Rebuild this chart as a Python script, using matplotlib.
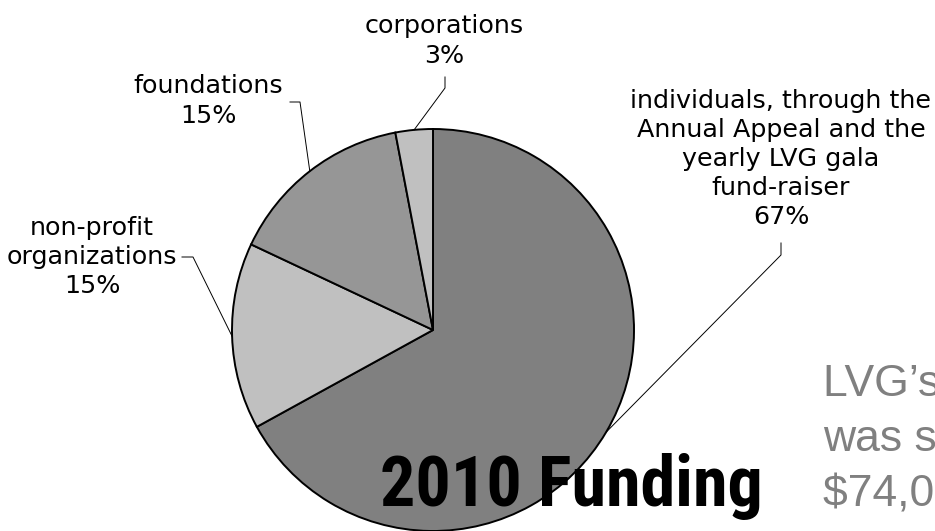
import matplotlib
matplotlib.use("Agg")
import matplotlib.pyplot as plt
from matplotlib import font_manager
import numpy as np

# ---- data ----
categories = ["individuals, through the\nAnnual Appeal and the\nyearly LVG gala\nfund-raiser",
              "non-profit\norganizations",
              "foundations",
              "corporations"]
values = [67, 15, 15, 3]
pct_labels = ["67%", "15%", "15%", "3%"]
colors = ["#808080", "#c0c0c0", "#969696", "#c0c0c0"]
title = "2010 Funding"
side_lines = ["LVG\u2019s budget for", "was spent on", "$74,000 in"]

W, H = 935, 531
fig = plt.figure(figsize=(W / 100, H / 100), dpi=100)
fig.patch.set_facecolor("white")

# pie placement in pixels (from top-left)
cx, cy, r = 433, 330, 201
ax = fig.add_axes([(cx - r) / W, (H - cy - r) / H, 2 * r / W, 2 * r / H])
wedges, _ = ax.pie(values, colors=colors, startangle=90, counterclock=False,
                   radius=1, wedgeprops=dict(edgecolor="black", linewidth=1.4))
ax.set_xlim(-1, 1)
ax.set_ylim(-1, 1)
ax.set_aspect("auto")
ax.axis("off")


def to_data(px, py):
    return ((px - cx) / r, (cy - py) / r)


# label layout: text center (px), leader start, leader kink
layout = [
    dict(text=(781, 159), start=(781, 243), kink=(781, 255)),
    dict(text=(92, 257), start=(182, 257), kink=(193, 257)),
    dict(text=(208, 101), start=(290, 102), kink=(300, 102)),
    dict(text=(444, 41), start=(445, 77), kink=(445, 88)),
]

label_font = dict(family="DejaVu Sans", size=18.3)
for w, cat, pct, lay in zip(wedges, categories, pct_labels, layout):
    mid = np.deg2rad((w.theta1 + w.theta2) / 2)
    ex, ey = np.cos(mid), np.sin(mid)
    tx, ty = to_data(*lay["text"])
    ax.text(tx, ty, cat + "\n" + pct, ha="center", va="center",
            linespacing=1.27, clip_on=False, **label_font)
    sx, sy = to_data(*lay["start"])
    kx, ky = to_data(*lay["kink"])
    ax.plot([sx, kx, ex], [sy, ky, ey], color="black", lw=0.7,
            clip_on=False, zorder=5)

# title font: condensed bold
names = {f.name for f in font_manager.fontManager.ttflist}
tfam = "Roboto Condensed" if "Roboto Condensed" in names else "Liberation Sans"
fig.text(380 / W, 1 - 506 / H, title, ha="left", va="baseline",
         family=tfam, weight="bold", size=50.5, color="black", zorder=10)

# side text (gray, clipped by figure edge)
for i, line in enumerate(side_lines):
    fig.text(823 / W, 1 - (396 + 55 * i) / H, line, ha="left", va="baseline",
             family="Liberation Sans", size=32, color="#808080")

fig.savefig("out.png", dpi=100)
